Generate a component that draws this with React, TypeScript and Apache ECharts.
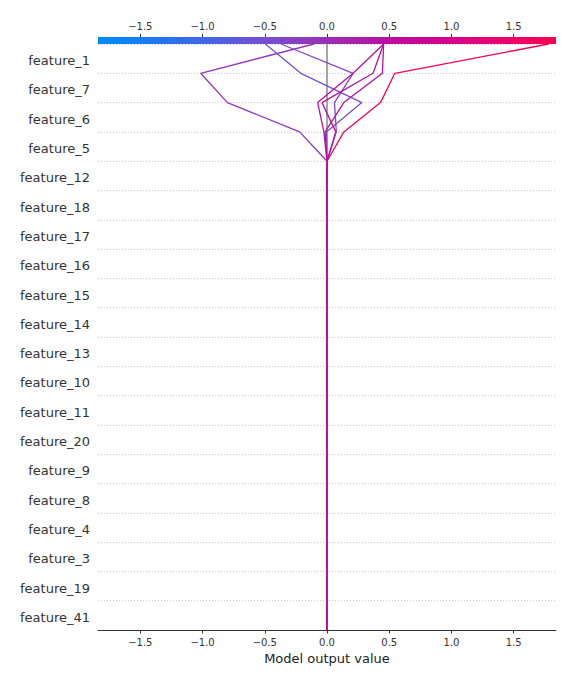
import React, { useEffect, useRef } from 'react';
import * as echarts from 'echarts';

// Features listed top to bottom as shown in the decision plot
const featureNames = [
  'feature_1', 'feature_7', 'feature_6', 'feature_5', 'feature_12', 'feature_18',
  'feature_17', 'feature_16', 'feature_15', 'feature_14', 'feature_13', 'feature_10',
  'feature_11', 'feature_20', 'feature_9', 'feature_8', 'feature_4', 'feature_3',
  'feature_19', 'feature_41',
];

const baseValue = 0;
const xMin = -1.84;
const xMax = 1.84;
const tickValues = [-1.5, -1.0, -0.5, 0.0, 0.5, 1.0, 1.5];

// SHAP contributions per sample (7 samples); all other features contribute 0
const shapFeature5 = [0.135, -0.22, -0.005, 0.075, 0.07, -0.015, -0.025];
const shapFeature6 = [0.295, -0.58, 0.285, -0.015, -0.11, 0.15, -0.05];
const shapFeature7 = [0.115, -0.215, -0.49, 0.15, 0.41, 0.31, 0.285];
const shapFeature1 = [1.235, 0.91, -0.285, -0.58, 0.085, 0.01, 0.245];

const contributions: Record<string, number[]> = {
  feature_5: shapFeature5,
  feature_6: shapFeature6,
  feature_7: shapFeature7,
  feature_1: shapFeature1,
};

const cmapStops: [number, string][] = [
  [0, '#008bfb'],
  [0.125, '#1f77f0'],
  [0.25, '#4964e2'],
  [0.375, '#7a4dd0'],
  [0.5, '#9a2fb2'],
  [0.625, '#b810a3'],
  [0.75, '#d3008f'],
  [0.875, '#eb0070'],
  [1, '#ff0051'],
];

function hexToRgb(h: string) {
  return [parseInt(h.slice(1, 3), 16), parseInt(h.slice(3, 5), 16), parseInt(h.slice(5, 7), 16)];
}

function cmap(t: number) {
  const f = Math.max(0, Math.min(1, t));
  for (let i = 1; i < cmapStops.length; i++) {
    if (f <= cmapStops[i][0]) {
      const [t0, c0] = cmapStops[i - 1];
      const [t1, c1] = cmapStops[i];
      const u = (f - t0) / (t1 - t0);
      const a = hexToRgb(c0);
      const b = hexToRgb(c1);
      const r = a.map((v, k) => Math.round(v + (b[k] - v) * u));
      return `rgb(${r[0]},${r[1]},${r[2]})`;
    }
  }
  return cmapStops[cmapStops.length - 1][1];
}

const fmt = (v: number) => (v < 0 ? '\u2212' : '') + Math.abs(v).toFixed(1);

export default function App() {
  const ref = useRef<HTMLDivElement>(null);
  useEffect(() => {
    if (!ref.current) return;
    const chart = echarts.init(ref.current, undefined, { renderer: 'svg' });
    const bottomToTop = [...featureNames].reverse();
    const nSamples = shapFeature1.length;
    const lines: any[] = [];
    for (let s = 0; s < nSamples; s++) {
      let cum = baseValue;
      const pts: number[][] = [[cum, 0]];
      bottomToTop.forEach((f, i) => {
        const c = contributions[f] ? contributions[f][s] : 0;
        cum += c;
        pts.push([cum, i + 1]);
      });
      const color = cmap((cum - xMin) / (xMax - xMin));
      lines.push({
        type: 'line',
        xAxisIndex: 0,
        yAxisIndex: 1,
        data: pts,
        symbol: 'none',
        lineStyle: { color, width: 1.3 },
        z: 3,
        silent: true,
      });
    }
    const grid = { left: 98, right: 20, top: 44, bottom: 54 };
    const gridW = 576 - grid.left - grid.right;
    chart.setOption({
      animation: false,
      textStyle: { fontFamily: 'DejaVu Sans' },
      grid,
      xAxis: [
        {
          type: 'value',
          min: xMin,
          max: xMax,
          position: 'bottom',
          name: 'Model output value',
          nameLocation: 'middle',
          nameGap: 19,
          nameTextStyle: { fontSize: 13, color: '#222', fontFamily: 'DejaVu Sans' },
          axisLine: { show: true, lineStyle: { color: '#333', width: 1 } },
          axisTick: { show: true, length: 3.5, customValues: tickValues, lineStyle: { color: '#333' } },
          axisLabel: { customValues: tickValues, formatter: fmt, fontSize: 10, color: '#333', margin: 7 },
          splitLine: { show: false },
        },
        {
          type: 'value',
          min: xMin,
          max: xMax,
          position: 'top',
          offset: 7,
          axisLine: { show: false },
          axisTick: { show: true, length: 3, customValues: tickValues, lineStyle: { color: '#333' } },
          axisLabel: { customValues: tickValues, formatter: fmt, fontSize: 10, color: '#333', margin: 6 },
          splitLine: { show: false },
        },
      ],
      yAxis: [
        {
          type: 'category',
          data: bottomToTop,
          boundaryGap: true,
          axisLine: { show: false },
          axisTick: { show: false },
          axisLabel: {
            interval: 0,
            margin: 8,
            formatter: (v: string) => `{f|${v}}`,
            rich: { f: { fontSize: 13, color: '#333', fontFamily: 'DejaVu Sans', padding: [4, 0, 0, 0] } },
          },
          splitLine: { show: true, interval: 0, lineStyle: { color: '#cccccc', type: [1, 2], width: 1 } },
        },
        {
          type: 'value',
          min: 0,
          max: featureNames.length,
          show: false,
        },
      ],
      graphic: [
        {
          type: 'rect',
          shape: { x: grid.left, y: 37, width: gridW, height: 7 },
          style: {
            fill: new echarts.graphic.LinearGradient(
              0, 0, 1, 0,
              cmapStops.map(([o, c]) => ({ offset: o, color: c }))
            ),
          },
          z: 10,
        },
      ],
      series: [
        {
          type: 'line',
          xAxisIndex: 0,
          yAxisIndex: 1,
          data: [[baseValue, 0], [baseValue, featureNames.length]],
          symbol: 'none',
          lineStyle: { color: '#a6a6a6', width: 2 },
          z: 2,
          silent: true,
        },
        ...lines,
      ],
    });
    return () => chart.dispose();
  }, []);
  return (
    <div
      ref={ref}
      style={{ position: 'fixed', left: 0, top: 0, width: 576, height: 684, background: '#fff' }}
    />
  );
}
